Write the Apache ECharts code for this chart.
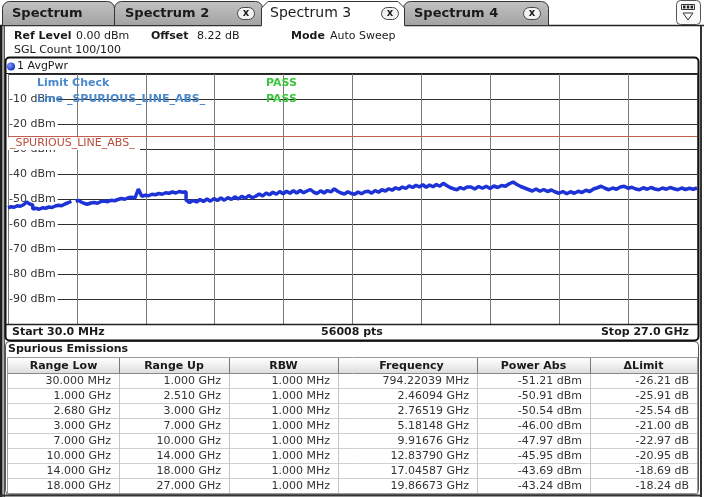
<!DOCTYPE html>
<html><head><meta charset="utf-8">
<script src="https://cdn.jsdelivr.net/npm/echarts@6/dist/echarts.min.js"></script>
<style>html,body{margin:0;padding:0;background:#fff}#c{width:704px;height:497px}</style>
</head><body><div id="c"></div><script>
// ---------- data ----------
const rangeStartGHz = [0.03, 1.0, 2.68, 3.0, 7.0, 10.0, 14.0, 18.0];
const rangeStopGHz  = [1.0, 2.51, 3.0, 7.0, 10.0, 14.0, 18.0, 27.0];
const trace1 = [-53.5, -53.1, -53.3, -52.7, -52.9, -52.3, -51.21, -52.0, -52.4];
const trace2 = [-54.0, -53.7, -54.1, -53.5, -53.7, -53.2, -53.4, -52.8, -52.5, -52.7, -52.0, -51.5, -50.91];
const trace3 = [-50.9, -50.54, -51.2, -51.7];
const trace4 = [-51.8, -52.1, -51.6, -51.4, -51.7, -51.0, -50.8, -51.1, -50.5, -50.7, -50.2, -49.8, -50.1, -49.5, -49.3, -49.6, -46.0, -48.9, -48.5, -48.7, -48.1, -48.3, -47.8, -48.1, -47.5, -47.7, -47.2, -47.6, -47.0, -47.3, -47.1];
const trace5 = [-50.4, -51.4, -50.6, -51.2, -50.2, -51.0, -50.0, -50.9, -49.8, -50.6, -49.6, -50.5, -49.4, -50.2, -49.1, -50.0, -48.9, -49.7, -48.6, -49.5, -48.9, -47.97, -48.8];
const trace6 = [-48.6, -47.6, -48.3, -47.3, -48.1, -47.0, -47.9, -46.9, -47.7, -46.7, -47.6, -46.6, -47.5, -46.8, -46.2, -47.3, -47.8, -46.7, -47.6, -46.6, -47.2, -45.95, -46.9, -47.6, -48.0, -47.1, -47.8, -48.1, -47.2, -47.9, -47.1];
const trace7 = [-47.6, -46.9, -47.7, -46.6, -47.3, -46.3, -46.8, -45.9, -46.5, -45.5, -46.1, -45.2, -45.8, -44.7, -45.4, -44.5, -45.2, -44.3, -45.3, -44.4, -45.1, -44.2, -44.9, -43.69, -44.6, -45.4, -45.9, -46.3, -45.4, -46.0, -45.2];
const trace8 = [-45.9, -45.2, -46.0, -45.0, -45.7, -44.9, -45.8, -44.8, -45.4, -44.6, -44.9, -43.9, -43.24, -44.2, -45.0, -45.6, -46.2, -46.8, -46.0, -46.9, -46.2, -47.0, -46.4, -47.2, -47.7, -47.0, -47.9, -47.1, -47.7, -46.9, -47.4, -46.5, -47.0, -46.0, -45.5, -44.9, -45.7, -46.3, -45.6, -46.1, -45.2, -44.9, -45.7, -45.3, -46.0, -46.3, -45.5, -46.1, -45.4, -46.0, -46.3, -45.6, -46.1, -45.4, -45.9, -46.3, -45.6, -46.2, -45.7, -46.1, -45.6];
const traces = [trace1, trace2, trace3, trace4, trace5, trace6, trace7, trace8];
const limitLineDbm = -25;
const startFreqGHz = 0.03, stopFreqGHz = 27.0;

const tableHeaders = ['Range Low', 'Range Up', 'RBW', 'Frequency', 'Power Abs', '\u0394Limit'];
const rangeLow  = ['30.000 MHz', '1.000 GHz', '2.680 GHz', '3.000 GHz', '7.000 GHz', '10.000 GHz', '14.000 GHz', '18.000 GHz'];
const rangeUp   = ['1.000 GHz', '2.510 GHz', '3.000 GHz', '7.000 GHz', '10.000 GHz', '14.000 GHz', '18.000 GHz', '27.000 GHz'];
const rbw       = ['1.000 MHz', '1.000 MHz', '1.000 MHz', '1.000 MHz', '1.000 MHz', '1.000 MHz', '1.000 MHz', '1.000 MHz'];
const peakFreq  = ['794.22039 MHz', '2.46094 GHz', '2.76519 GHz', '5.18148 GHz', '9.91676 GHz', '12.83790 GHz', '17.04587 GHz', '19.86673 GHz'];
const powerAbs  = [-51.21, -50.91, -50.54, -46.00, -47.97, -45.95, -43.69, -43.24];
const deltaLim  = [-26.21, -25.91, -25.54, -21.00, -22.97, -20.95, -18.69, -18.24];

// ---------- build ----------
const FF = '"DejaVu Sans", Verdana, sans-serif';
const traceData = [];
traces.forEach((vals, r) => {
  const a = rangeStartGHz[r], b = rangeStopGHz[r], n = vals.length;
  vals.forEach((v, i) => traceData.push([a + (b - a) * i / (n - 1), v]));
  if (r < traces.length - 1 && rangeStartGHz[r + 1] !== b) traceData.push([b, '-']);
});

const g = [];
function T(x, y, s, o) {
  o = o || {};
  g.push({type: 'text', z: o.z || 100, silent: true, style: {
    x: x, y: y, text: s,
    font: (o.w || 'normal') + ' ' + (o.s || 11) + 'px ' + FF,
    fill: o.c || '#1a1a1a', textAlign: o.a || 'left', textVerticalAlign: 'middle'}});
}
function L(x1, y1, x2, y2, c, w, z) {
  g.push({type: 'line', z: z || 90, silent: true, shape: {x1: x1, y1: y1, x2: x2, y2: y2},
    style: {stroke: c, lineWidth: w || 1}});
}
function R(x, y, w, h, fill, stroke, r, z, lw) {
  g.push({type: 'rect', z: z || 90, silent: true, shape: {x: x, y: y, width: w, height: h, r: r || 0},
    style: {fill: fill || 'none', stroke: stroke || 'none', lineWidth: lw || 1}});
}
const tabGrad = {type: 'linear', x: 0, y: 0, x2: 0, y2: 1, colorStops: [{offset: 0, color: '#c2c2c2'}, {offset: 1, color: '#a2a2a2'}]};

// tab strip
L(0, 25.5, 704, 25.5, '#222', 1.5, 80);
R(2.5, 1.5, 112, 24, tabGrad, '#333', [7, 7, 0, 0], 81);
R(114.5, 1.5, 148, 24, tabGrad, '#333', [7, 7, 0, 0], 81);
R(403.5, 1.5, 145, 24, tabGrad, '#333', [7, 7, 0, 0], 81);
g.push({type: 'polygon', z: 82, silent: true, shape: {points: [[261.5, 27], [261.5, 8], [268, 1.5], [398, 1.5], [404.5, 8], [404.5, 27]]}, style: {fill: '#fff'}});
g.push({type: 'polyline', z: 83, silent: true, shape: {points: [[261.5, 25.5], [261.5, 8], [268, 1.5], [398, 1.5], [404.5, 8], [404.5, 25.5]]}, style: {stroke: '#333', lineWidth: 1, fill: 'none'}});
T(12, 14, 'Spectrum', {w: 'bold', s: 13});
T(125, 14, 'Spectrum 2', {w: 'bold', s: 13});
T(270, 13, 'Spectrum 3', {s: 14});
T(414, 14, 'Spectrum 4', {w: 'bold', s: 13});
[246, 390, 532].forEach(cx => {
  R(cx - 8.5, 7.5, 17, 12, '#f2f2f2', '#444', 6, 101);
  T(cx, 13.5, 'x', {w: 'bold', s: 10, a: 'center', z: 102});
});
R(676.5, 0.5, 24, 24, '#fafafa', '#555', 4, 101);
R(681.5, 4.5, 13, 5, '#fff', '#333', 0, 102);
R(683, 5.5, 2.5, 3, '#222', null, 0, 103);
R(686.8, 5.5, 2.5, 3, '#222', null, 0, 103);
R(690.6, 5.5, 2.5, 3, '#222', null, 0, 103);
g.push({type: 'polygon', z: 102, silent: true, shape: {points: [[683, 13], [693, 13], [688, 20]]}, style: {fill: 'none', stroke: '#333', lineWidth: 1}});

// outer frame
R(0, 25, 2.5, 472, '#1e1e1e', null, 0, 80);
R(3.5, 25, 1.5, 472, '#555', null, 0, 80);
R(700, 25, 2, 472, '#333', null, 0, 80);
L(0, 495.5, 702, 495.5, '#333', 2, 80);

// header info
T(14, 36, 'Ref Level', {w: 'bold'}); T(76, 36, '0.00 dBm');
T(151, 36, 'Offset', {w: 'bold'}); T(197, 36, '8.22 dB');
T(291, 36, 'Mode', {w: 'bold'}); T(330, 36, 'Auto Sweep');
T(14, 50, 'SGL Count 100/100');

// diagram frame
R(5.5, 57.5, 693, 283, 'none', '#111', 4, 95, 2);
L(6, 73.5, 698, 73.5, '#222', 1, 95);
g.push({type: 'circle', z: 101, silent: true, shape: {cx: 11, cy: 66.5, r: 4},
  style: {fill: {type: 'radial', x: 0.35, y: 0.35, r: 0.7, colorStops: [{offset: 0, color: '#7f9cff'}, {offset: 1, color: '#1230c0'}]}}});
T(17, 66.5, '1 AvgPwr');
T(37, 83, 'Limit Check', {w: 'bold', c: '#4a89cc'});
T(266, 83, 'PASS', {w: 'bold', c: '#3cc43c'});
T(37, 99, 'Line _SPURIOUS_LINE_ABS_', {w: 'bold', c: '#4a89cc'});
T(266, 99, 'PASS', {w: 'bold', c: '#3cc43c'});
R(8, 137.5, 132, 12.5, '#fff', null, 0, 99);
T(10, 143.5, '_SPURIOUS_LINE_ABS_', {c: '#b84c3e'});

// bottom bar
L(6, 324.5, 698, 324.5, '#222', 1.5, 95);
T(12, 332, 'Start 30.0 MHz', {w: 'bold'});
T(352, 332, '56008 pts', {w: 'bold', a: 'center'});
T(689, 332, 'Stop 27.0 GHz', {w: 'bold', a: 'right'});

// table
R(5.5, 341.5, 693, 153, 'none', '#555', 4, 90);
T(8, 349.5, 'Spurious Emissions', {w: 'bold'});
const colEdges = [8, 119, 229, 338, 477, 590, 697];
const headGrad = {type: 'linear', x: 0, y: 0, x2: 0, y2: 1, colorStops: [{offset: 0, color: '#ffffff'}, {offset: 1, color: '#dedede'}]};
R(8, 358, 689, 15, headGrad, null, 0, 90);
const rowH = 15, row0 = 381;
for (let i = 0; i <= rangeLow.length; i++) L(8, 373.5 + i * rowH, 697, 373.5 + i * rowH, i === 0 ? '#888' : '#cfcfcf', 1, 91);
colEdges.slice(1, -1).forEach(x => {
  L(x + 0.5, 358, x + 0.5, 373, '#777', 1, 92);
  L(x + 0.5, 374, x + 0.5, 493, '#c4c4c4', 1, 92);
});
R(7.5, 357.5, 690, 136, 'none', '#9a9a9a', 0, 92);
tableHeaders.forEach((h, c) => T((colEdges[c] + colEdges[c + 1]) / 2 + (c === 3 ? 4 : 0), 366, h, {w: 'bold', a: 'center'}));
const cols = [rangeLow, rangeUp, rbw, peakFreq,
  powerAbs.map(v => v.toFixed(2) + ' dBm'), deltaLim.map(v => v.toFixed(2) + ' dB')];
cols.forEach((col, c) => col.forEach((s, r) => T(colEdges[c + 1] - 8, row0 + r * rowH, s, {a: 'right', c: '#333'})));

// ---------- chart ----------
const chart = echarts.init(document.getElementById('c'), null, {renderer: 'canvas'});
chart.setOption({
  animation: false,
  backgroundColor: '#fff',
  grid: {left: 8, top: 74, width: 689, height: 250, containLabel: false},
  xAxis: [
    {type: 'value', min: startFreqGHz, max: stopFreqGHz, show: false},
    {type: 'value', min: 0, max: 10, interval: 1, axisLine: {show: false}, axisTick: {show: false},
     axisLabel: {show: false}, splitLine: {show: true, lineStyle: {color: '#7a7a7a', width: 1}}}
  ],
  yAxis: {
    type: 'value', min: -100, max: 0, interval: 10,
    axisLine: {show: false}, axisTick: {show: false},
    splitLine: {show: true, lineStyle: {color: '#2e2e2e', width: 1}},
    axisLabel: {inside: true, margin: 1, fontSize: 11, fontFamily: FF, color: '#333',
      backgroundColor: '#fff', padding: [0, 2, 0, 0],
      formatter: v => (v === 0 || v === -100) ? '' : v + ' dBm'}
  },
  series: [{
    type: 'line', xAxisIndex: 0, data: traceData, showSymbol: false, connectNulls: false,
    lineStyle: {color: '#1d33d6', width: 3.5}, z: 5,
    markLine: {silent: true, symbol: 'none', label: {show: false},
      lineStyle: {color: '#c2604e', width: 1, type: 'solid'}, data: [{yAxis: limitLineDbm}]}
  }],
  graphic: {elements: g}
});
</script></body></html>
